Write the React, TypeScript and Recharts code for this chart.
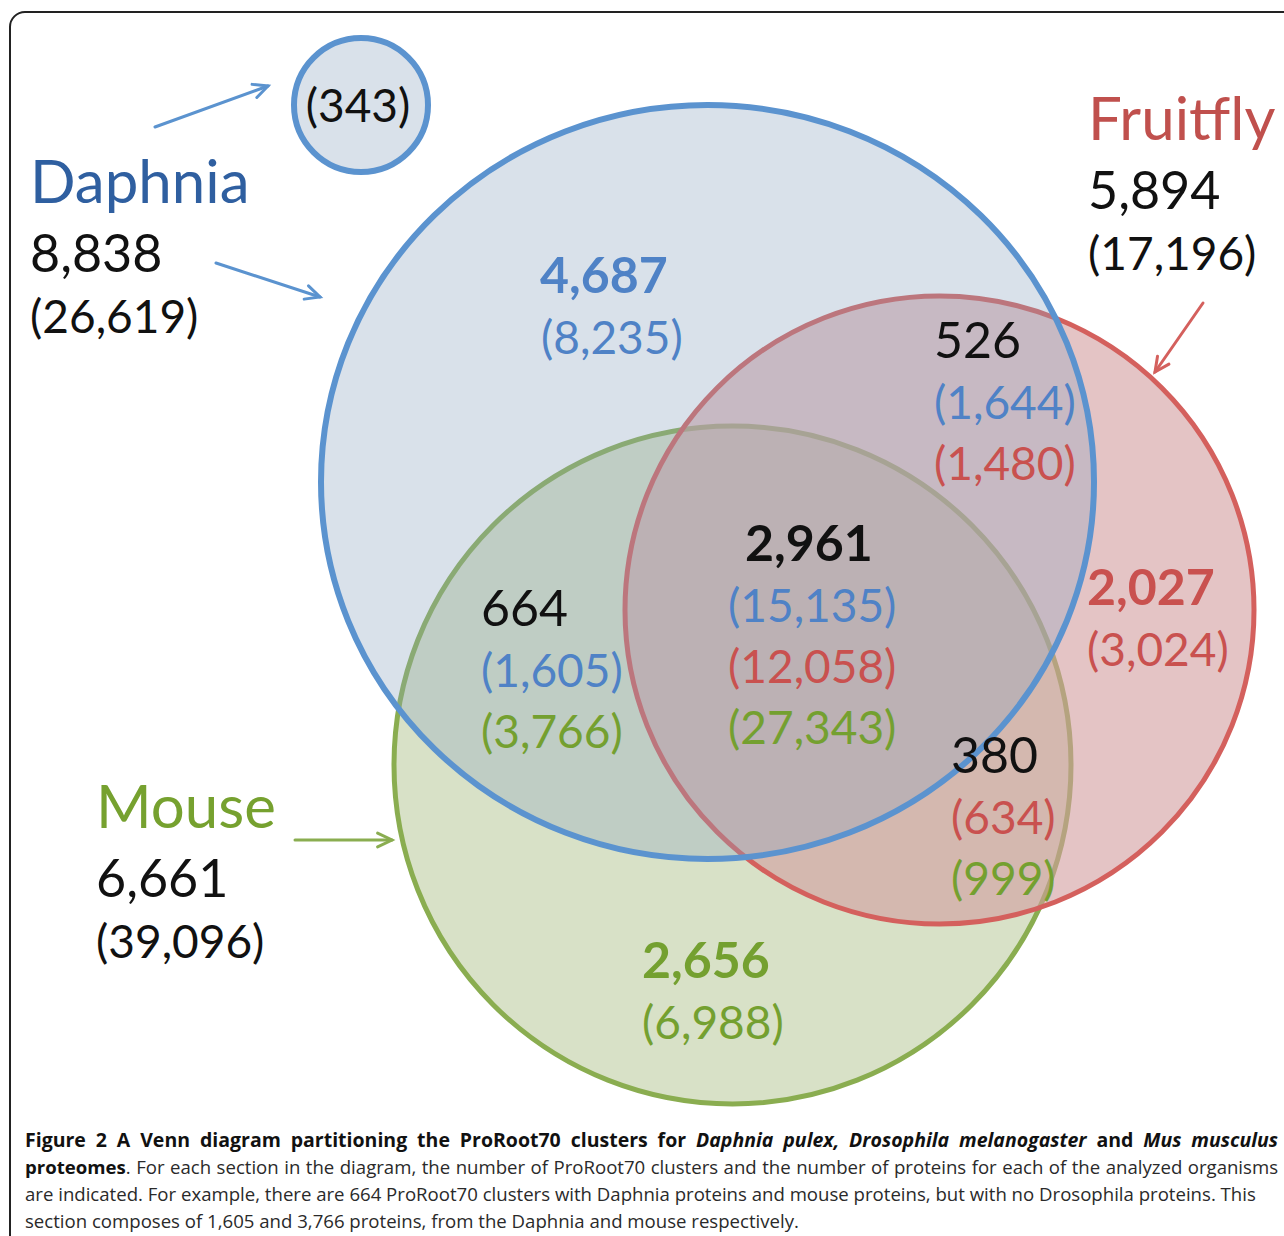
import React from 'react';
import { ScatterChart, Scatter, XAxis, YAxis, ReferenceLine } from 'recharts';

const W = 1284;
const H = 1236;

// organisms: total clusters and proteins
const organisms = ['Daphnia', 'Fruitfly', 'Mouse'];
const organismClusters = [8838, 5894, 6661];
const organismProteins = [26619, 17196, 39096];

// Venn sections (D = Daphnia, F = Fruitfly, M = Mouse)
const sectionNames = ['D', 'DF', 'DFM', 'DM', 'F', 'FM', 'M'];
const sectionClusters = [4687, 526, 2961, 664, 2027, 380, 2656];
const sectionDaphnia = [8235, 1644, 15135, 1605, null, null, null];
const sectionFruitfly = [null, 1480, 12058, null, 3024, 634, null];
const sectionMouse = [null, null, 27343, 3766, null, 999, 6988];
const daphniaSingleton = 343;

const BLUE = '#5b93cf';
const RED = '#d4605d';
const GREEN = '#8aad50';
const BLUE_TXT = '#4f82c6';
const RED_TXT = '#c9514f';
const GREEN_TXT = '#74a030';

const fmt = (n: number) => n.toLocaleString('en-US');

// circle layout, bottom to top
const circles = [
  { name: 'Mouse', x: 732.5, y: 765, rx: 338.5, ry: 339, stroke: GREEN, fill: '#becda2', op: 0.6, sw: 5 },
  { name: 'Fruitfly', x: 939.5, y: 610, rx: 314.5, ry: 314, stroke: RED, fill: '#d29d9e', op: 0.6, sw: 5 },
  { name: 'Daphnia', x: 707.5, y: 482, rx: 386.5, ry: 377, stroke: BLUE, fill: '#8ca4bf', op: 0.33, sw: 6 },
  { name: 'Daphnia only', x: 361, y: 105, rx: 67, ry: 67, stroke: BLUE, fill: '#8ca4bf', op: 0.33, sw: 6 },
];

// where each section's text sits: [x of count, x of protein lines, baseline of count]
const sectionPos: Record<string, [number, number, number]> = {
  D: [540, 541, 293],
  DF: [934, 934, 358],
  DFM: [745, 728, 561],
  DM: [481, 481, 626],
  F: [1087, 1087, 605],
  FM: [951, 951, 773],
  M: [642, 642, 978],
};
const sectionHeadColor: Record<string, string> = {
  D: BLUE_TXT,
  DF: '#111',
  DFM: '#111',
  DM: '#111',
  F: RED_TXT,
  FM: '#111',
  M: GREEN_TXT,
};
const boldSections = ['D', 'DFM', 'F', 'M'];

const sidePos: [number, number][] = [
  [30, 203],
  [1088, 140],
  [96, 828],
];
const sideColor = ['#2f5fa0', '#c0504d', '#76a12f'];

type Label = { x: number; y: number; text: string; color: string; size: number; weight: number; anchor: string };

const labels: Label[] = [];
sectionNames.forEach((s, i) => {
  const [hx, sx, y] = sectionPos[s];
  labels.push({ x: hx, y, text: fmt(sectionClusters[i]), color: sectionHeadColor[s], size: 50, weight: boldSections.includes(s) ? 700 : 400, anchor: 'start' });
  const extra: [number | null, string][] = [
    [sectionDaphnia[i], BLUE_TXT],
    [sectionFruitfly[i], RED_TXT],
    [sectionMouse[i], GREEN_TXT],
  ];
  let line = 1;
  extra.forEach(([v, c]) => {
    if (v == null) return;
    const col = s === 'D' || s === 'F' || s === 'M' ? sectionHeadColor[s] : c;
    labels.push({ x: sx, y: y + line * 61, text: `(${fmt(v)})`, color: col, size: 46, weight: 400, anchor: 'start' });
    line += 1;
  });
});
organisms.forEach((o, i) => {
  const [x, y] = sidePos[i];
  labels.push({ x, y, text: o, color: sideColor[i], size: 60, weight: 400, anchor: 'start' });
  labels.push({ x, y: y + 69, text: fmt(organismClusters[i]), color: '#111', size: 52, weight: 400, anchor: 'start' });
  labels.push({ x, y: y + 130, text: `(${fmt(organismProteins[i])})`, color: '#111', size: 46, weight: 400, anchor: 'start' });
});
labels.push({ x: 358, y: 122, text: `(${daphniaSingleton})`, color: '#111', size: 46, weight: 400, anchor: 'middle' });

const arrows = [
  { from: { x: 155, y: 127 }, to: { x: 268, y: 86 }, color: BLUE },
  { from: { x: 216, y: 263 }, to: { x: 320, y: 297 }, color: BLUE },
  { from: { x: 1203, y: 303 }, to: { x: 1155, y: 372 }, color: RED },
  { from: { x: 295, y: 840 }, to: { x: 392, y: 840 }, color: GREEN },
];

const EllipseShape = (props: any) => {
  const { cx, cy, payload } = props;
  return (
    <ellipse
      cx={cx}
      cy={cy}
      rx={payload.rx}
      ry={payload.ry}
      fill={payload.fill}
      fillOpacity={payload.op}
      stroke={payload.stroke}
      strokeWidth={payload.sw}
    />
  );
};

const TextShape = (props: any) => {
  const { cx, cy, payload } = props;
  return (
    <text
      x={cx}
      y={cy}
      fill={payload.color}
      fontSize={payload.size}
      fontWeight={payload.weight}
      textAnchor={payload.anchor}
      fontFamily="Lato, sans-serif"
    >
      {payload.text}
    </text>
  );
};

const makeArrow = (color: string) => (props: any) => {
  const { x1, y1, x2, y2 } = props;
  const a = Math.atan2(y2 - y1, x2 - x1);
  const len = 16;
  const spread = 0.45;
  const hx1 = x2 - len * Math.cos(a - spread);
  const hy1 = y2 - len * Math.sin(a - spread);
  const hx2 = x2 - len * Math.cos(a + spread);
  const hy2 = y2 - len * Math.sin(a + spread);
  return (
    <g stroke={color} strokeWidth={3} strokeLinecap="round" fill="none">
      <line x1={x1} y1={y1} x2={x2} y2={y2} />
      <polyline points={`${hx1},${hy1} ${x2},${y2} ${hx2},${hy2}`} />
    </g>
  );
};

const captionStyle: React.CSSProperties = {
  fontFamily: '"Open Sans", sans-serif',
  fontSize: 18.6,
  lineHeight: '27px',
  color: '#2a2a2a',
  whiteSpace: 'nowrap',
};

export default function App() {
  return (
    <div style={{ position: 'absolute', left: 0, top: 0, width: W, height: H, overflow: 'hidden', background: '#fff' }}>
      <div
        style={{
          position: 'absolute',
          left: 9,
          top: 11,
          width: W + 40,
          height: H + 40,
          border: '2px solid #222',
          borderRadius: 16,
        }}
      />
      <div style={{ position: 'absolute', left: 0, top: 0 }}>
        <ScatterChart width={W} height={H} margin={{ top: 0, right: 0, bottom: 0, left: 0 }}>
          <XAxis type="number" dataKey="x" domain={[0, W]} allowDataOverflow hide />
          <YAxis type="number" dataKey="y" domain={[0, H]} allowDataOverflow reversed hide />
          {circles.map((c) => (
            <Scatter key={c.name} name={c.name} data={[c]} shape={EllipseShape} isAnimationActive={false} />
          ))}
          {arrows.map((a, i) => (
            <ReferenceLine key={i} segment={[a.from, a.to]} shape={makeArrow(a.color)} ifOverflow="visible" />
          ))}
          <Scatter name="labels" data={labels} shape={TextShape} isAnimationActive={false} />
        </ScatterChart>
      </div>
      <div style={{ position: 'absolute', left: 25, top: 1126, width: 1253 }}>
        <div style={{ ...captionStyle, fontSize: 19.5, textAlign: 'justify', textAlignLast: 'justify', whiteSpace: 'normal', color: '#111' }}>
          <b>Figure 2 A Venn diagram partitioning the ProRoot70 clusters for <i>Daphnia pulex, Drosophila melanogaster</i> and <i>Mus musculus</i></b>
        </div>
        <div style={{ ...captionStyle, textAlign: 'justify', textAlignLast: 'justify', whiteSpace: 'normal' }}>
          <b style={{ color: '#111' }}>proteomes</b>. For each section in the diagram, the number of ProRoot70 clusters and the number of proteins for each of the analyzed organisms
        </div>
        <div style={captionStyle}>
          are indicated. For example, there are 664 ProRoot70 clusters with Daphnia proteins and mouse proteins, but with no Drosophila proteins. This
        </div>
        <div style={captionStyle}>section composes of 1,605 and 3,766 proteins, from the Daphnia and mouse respectively.</div>
      </div>
    </div>
  );
}
